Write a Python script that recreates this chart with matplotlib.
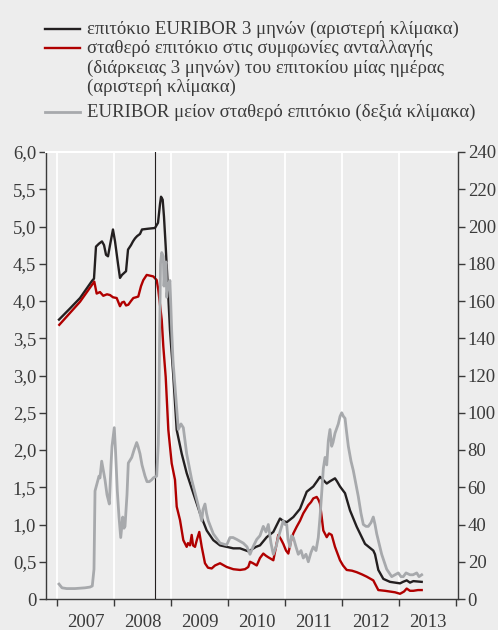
import matplotlib
matplotlib.use('Agg')
import matplotlib.pyplot as plt
from matplotlib.lines import Line2D
from matplotlib.ticker import FixedLocator, FuncFormatter, NullFormatter
import numpy as np

# ---------------- data (decimal years) ----------------
years_euribor = [2007.035, 2007.228, 2007.404, 2007.614, 2007.649, 2007.684, 2007.737, 2007.789,
                 2007.825, 2007.860, 2007.895, 2007.930, 2007.982, 2008.018, 2008.070, 2008.105,
                 2008.140, 2008.211, 2008.246, 2008.298, 2008.333, 2008.368, 2008.404, 2008.456,
                 2008.491, 2008.596, 2008.719, 2008.772, 2008.807, 2008.825, 2008.854, 2008.877,
                 2008.907, 2008.953, 2008.982, 2009.040, 2009.100, 2009.188, 2009.275, 2009.391,
                 2009.509, 2009.626, 2009.742, 2009.860, 2009.977, 2010.093, 2010.211, 2010.356,
                 2010.386, 2010.491, 2010.561, 2010.679, 2010.795, 2010.860, 2010.912, 2010.965,
                 2011.030, 2011.146, 2011.263, 2011.381, 2011.496, 2011.561, 2011.614, 2011.667,
                 2011.732, 2011.789, 2011.877, 2011.912, 2011.965, 2012.053, 2012.140, 2012.258,
                 2012.404, 2012.549, 2012.579, 2012.637, 2012.725, 2012.842, 2013.018, 2013.070,
                 2013.135, 2013.193, 2013.251, 2013.398]
euribor_3m = [3.75, 3.90, 4.04, 4.27, 4.30, 4.73, 4.77, 4.80,
              4.75, 4.62, 4.60, 4.75, 4.96, 4.80, 4.50, 4.31,
              4.35, 4.40, 4.69, 4.75, 4.80, 4.84, 4.87, 4.90,
              4.96, 4.97, 4.98, 5.05, 5.30, 5.40, 5.36, 5.13,
              4.73, 4.06, 3.61, 3.00, 2.27, 1.95, 1.69, 1.42,
              1.15, 0.92, 0.79, 0.72, 0.70, 0.68, 0.68, 0.64,
              0.65, 0.70, 0.72, 0.83, 0.90, 1.00, 1.08, 1.05,
              1.03, 1.10, 1.21, 1.44, 1.51, 1.58, 1.64, 1.60,
              1.55, 1.58, 1.62, 1.58, 1.51, 1.42, 1.19, 0.97,
              0.74, 0.65, 0.60, 0.39, 0.27, 0.23, 0.21, 0.23,
              0.25, 0.22, 0.24, 0.23]

years_ois = [2007.040, 2007.228, 2007.404, 2007.654, 2007.696, 2007.754, 2007.812, 2007.877,
             2007.930, 2007.982, 2008.047, 2008.105, 2008.140, 2008.175, 2008.211, 2008.251,
             2008.298, 2008.339, 2008.386, 2008.426, 2008.474, 2008.514, 2008.574, 2008.632,
             2008.689, 2008.749, 2008.777, 2008.807, 2008.837, 2008.865, 2008.907, 2008.953,
             2009.012, 2009.070, 2009.100, 2009.158, 2009.216, 2009.275, 2009.298, 2009.333,
             2009.363, 2009.386, 2009.421, 2009.456, 2009.496, 2009.539, 2009.596, 2009.649,
             2009.714, 2009.772, 2009.860, 2009.977, 2010.093, 2010.211, 2010.298, 2010.356,
             2010.386, 2010.439, 2010.504, 2010.561, 2010.619, 2010.667, 2010.707, 2010.795,
             2010.842, 2010.882, 2010.930, 2010.970, 2011.018, 2011.058, 2011.105, 2011.146,
             2011.205, 2011.263, 2011.321, 2011.409, 2011.456, 2011.496, 2011.556, 2011.588,
             2011.614, 2011.644, 2011.672, 2011.732, 2011.772, 2011.819, 2011.877, 2011.965,
             2012.018, 2012.082, 2012.175, 2012.258, 2012.351, 2012.433, 2012.549, 2012.596,
             2012.637, 2012.754, 2012.842, 2012.930, 2013.018, 2013.088, 2013.135, 2013.193,
             2013.251, 2013.333, 2013.398]
ois_3m = [3.68, 3.84, 3.99, 4.26, 4.10, 4.12, 4.07, 4.09,
          4.08, 4.05, 4.04, 3.93, 3.98, 3.99, 3.94, 3.95,
          4.00, 4.04, 4.05, 4.06, 4.20, 4.28, 4.35, 4.34,
          4.33, 4.28, 4.15, 3.95, 3.75, 3.39, 2.98, 2.27,
          1.82, 1.60, 1.24, 1.06, 0.79, 0.70, 0.75, 0.72,
          0.86, 0.72, 0.70, 0.80, 0.90, 0.70, 0.48, 0.42,
          0.41, 0.45, 0.48, 0.43, 0.40, 0.39, 0.40, 0.43,
          0.50, 0.48, 0.45, 0.55, 0.61, 0.58, 0.56, 0.52,
          0.70, 0.86, 0.80, 0.74, 0.65, 0.61, 0.78, 0.88,
          0.97, 1.05, 1.15, 1.26, 1.30, 1.35, 1.37, 1.33,
          1.28, 1.10, 0.92, 0.83, 0.88, 0.86, 0.70, 0.52,
          0.45, 0.39, 0.38, 0.36, 0.33, 0.30, 0.25, 0.18,
          0.12, 0.11, 0.10, 0.09, 0.07, 0.10, 0.14, 0.11,
          0.11, 0.12, 0.12]

years_spread = [2007.035, 2007.088, 2007.170, 2007.316, 2007.491, 2007.579, 2007.619, 2007.649,
                2007.667, 2007.702, 2007.737, 2007.754, 2007.784, 2007.807, 2007.842, 2007.877,
                2007.918, 2007.947, 2007.965, 2008.005, 2008.026, 2008.058, 2008.088, 2008.118,
                2008.153, 2008.175, 2008.193, 2008.228, 2008.251, 2008.311, 2008.351, 2008.398,
                2008.421, 2008.456, 2008.491, 2008.544, 2008.579, 2008.619, 2008.661, 2008.689,
                2008.749, 2008.777, 2008.789, 2008.798, 2008.816, 2008.837, 2008.865, 2008.877,
                2008.895, 2008.912, 2008.925, 2008.947, 2008.982, 2009.012, 2009.035, 2009.070,
                2009.128, 2009.175, 2009.216, 2009.275, 2009.363, 2009.421, 2009.479, 2009.509,
                2009.539, 2009.561, 2009.596, 2009.623, 2009.654, 2009.742, 2009.860, 2009.977,
                2010.035, 2010.088, 2010.153, 2010.268, 2010.333, 2010.386, 2010.439, 2010.504,
                2010.561, 2010.619, 2010.667, 2010.707, 2010.754, 2010.795, 2010.842, 2010.882,
                2010.930, 2010.970, 2011.000, 2011.030, 2011.053, 2011.088, 2011.114, 2011.146,
                2011.193, 2011.233, 2011.281, 2011.321, 2011.368, 2011.409, 2011.456, 2011.496,
                2011.544, 2011.584, 2011.614, 2011.644, 2011.672, 2011.702, 2011.732, 2011.760,
                2011.789, 2011.819, 2011.842, 2011.877, 2011.935, 2011.965, 2011.995, 2012.026,
                2012.053, 2012.079, 2012.111, 2012.158, 2012.198, 2012.286, 2012.333, 2012.374,
                2012.421, 2012.461, 2012.509, 2012.549, 2012.579, 2012.609, 2012.696, 2012.784,
                2012.872, 2012.930, 2012.988, 2013.035, 2013.075, 2013.123, 2013.193, 2013.246,
                2013.311, 2013.351, 2013.398]
spread_bp = [8, 6, 5.6, 5.6, 6, 6.4, 7, 16,
             58, 62, 66, 65, 74, 70, 64, 56,
             51, 72, 82, 92, 80, 58, 44, 33,
             44, 38, 39, 56, 73, 76, 80, 84,
             82, 78, 72, 66, 63, 63, 64, 65,
             66, 83, 104, 136, 180, 186, 184, 168,
             177, 181, 162, 168, 171, 144, 128, 114,
             91, 94, 92, 78, 64, 57, 50, 46,
             42, 48, 51, 46, 42, 35, 30, 29,
             33, 33, 32, 30, 28, 24, 28, 32,
             34, 39, 36, 40, 30, 24, 28, 33,
             38, 42, 40, 40, 32, 28, 34, 33,
             28, 24, 26, 22, 24, 20, 25, 28,
             26, 33, 44, 57, 70, 76, 72, 85,
             91, 82, 84, 89, 94, 98, 100, 98,
             97, 90, 82, 74, 69, 55, 46, 40,
             39, 39, 41, 44, 40, 35, 24, 16,
             12, 13, 14, 12, 12, 14, 13, 13,
             14, 12, 13]

year_ticks = [2007, 2008, 2009, 2010, 2011, 2012, 2013, 2014]
year_labels = ['2007', '2008', '2009', '2010', '2011', '2012', '2013']
left_ticks = [0, 0.5, 1.0, 1.5, 2.0, 2.5, 3.0, 3.5, 4.0, 4.5, 5.0, 5.5, 6.0]
right_ticks = [0, 20, 40, 60, 80, 100, 120, 140, 160, 180, 200, 220, 240]
lehman_date = 2008.725

legend_labels = ['επιτόκιο EURIBOR 3 μηνών (αριστερή κλίμακα)',
                 'σταθερό επιτόκιο στις συμφωνίες ανταλλαγής\n(διάρκειας 3 μηνών) του επιτοκίου μίας ημέρας\n(αριστερή κλίμακα)',
                 'EURIBOR μείον σταθερό επιτόκιο (δεξιά κλίμακα)']

# ---------------- style ----------------
BG = '#ededed'
C_BLACK = '#231f20'
C_RED = '#b00000'
C_GRAY = '#a7a9ac'
C_AX = '#3a3a3a'
W, H = 498, 630
FS = 13.5

plt.rcParams['font.family'] = ['Liberation Serif', 'DejaVu Serif']
plt.rcParams['font.size'] = FS
plt.rcParams['text.color'] = C_AX

fig = plt.figure(figsize=(W / 100, H / 100), dpi=100, facecolor=BG)
ax = fig.add_axes([46 / W, 1 - 599 / H, (458 - 46) / W, (599 - 152) / H])
ax.set_facecolor(BG)
ax2 = ax.twinx()

ax.set_xlim(2006.807, 2014.035)
ax.set_ylim(0, 6)
ax2.set_ylim(0, 240)

# year separators (white)
for yt in year_ticks[:-1]:
    ax.axvline(yt, color='white', lw=1.3, zorder=0.5)

l1, = ax.plot(years_euribor, euribor_3m, color=C_BLACK, lw=1.7, zorder=3)
l2, = ax.plot(years_ois, ois_3m, color=C_RED, lw=1.7, zorder=3)
l3, = ax2.plot(years_spread, spread_bp, color=C_GRAY, lw=2.0, zorder=3)
ax.axvline(lehman_date, color=C_BLACK, lw=0.8, zorder=4)

# spines
for a in (ax, ax2):
    for s in a.spines.values():
        s.set_visible(False)
ax.spines['left'].set_visible(True)
ax.spines['left'].set_color(C_AX)
ax.spines['left'].set_linewidth(1.0)
ax.spines['bottom'].set_visible(True)
ax.spines['bottom'].set_color(C_AX)
ax.spines['bottom'].set_linewidth(1.0)
ax.spines['top'].set_visible(True)
ax.spines['top'].set_color('white')
ax.spines['top'].set_linewidth(1.5)
ax2.spines['right'].set_visible(True)
ax2.spines['right'].set_color(C_AX)
ax2.spines['right'].set_linewidth(1.0)

# y ticks
def fmt_left(v, pos):
    if abs(v) < 1e-9:
        return '0'
    return f'{v:.1f}'.replace('.', ',')

ax.yaxis.set_major_locator(FixedLocator(left_ticks))
ax.yaxis.set_major_formatter(FuncFormatter(fmt_left))
ax.tick_params(axis='y', direction='out', length=5, width=1, pad=2, colors=C_AX, labelsize=FS)
ax2.yaxis.set_major_locator(FixedLocator(right_ticks))
ax2.tick_params(axis='y', direction='out', length=5, width=1, pad=2, colors=C_AX, labelsize=FS)

# x ticks: year boundaries + centred labels
ax.xaxis.set_major_locator(FixedLocator(year_ticks))
ax.xaxis.set_major_formatter(NullFormatter())
ax.xaxis.set_minor_locator(FixedLocator([y + 0.5 for y in year_ticks[:-1]]))
ax.xaxis.set_minor_formatter(FuncFormatter(lambda v, p: year_labels[int(round(v - 0.5)) - year_ticks[0]]))
ax.tick_params(axis='x', which='major', direction='out', length=5, width=1, colors=C_AX)
ax.tick_params(axis='x', which='minor', length=0, pad=11, colors=C_AX, labelsize=FS)

# legend (manual, top of figure)
rows = [(34.0, 0), (53.3, 1), (117.3, 2)]
handles = [l1, l2, l3]
for base, idx in rows:
    h = handles[idx]
    fig.add_artist(Line2D([45 / W, 80 / W], [1 - (base - 5) / H] * 2,
                          color=h.get_color(), lw=h.get_linewidth(), transform=fig.transFigure))
    for k, line in enumerate(legend_labels[idx].split('\n')):
        fig.text(87 / W, 1 - (base + 19.2 * k) / H, line, ha='left', va='baseline',
                 fontsize=FS, color=C_AX)

fig.savefig('out.png', dpi=100, facecolor=BG)
